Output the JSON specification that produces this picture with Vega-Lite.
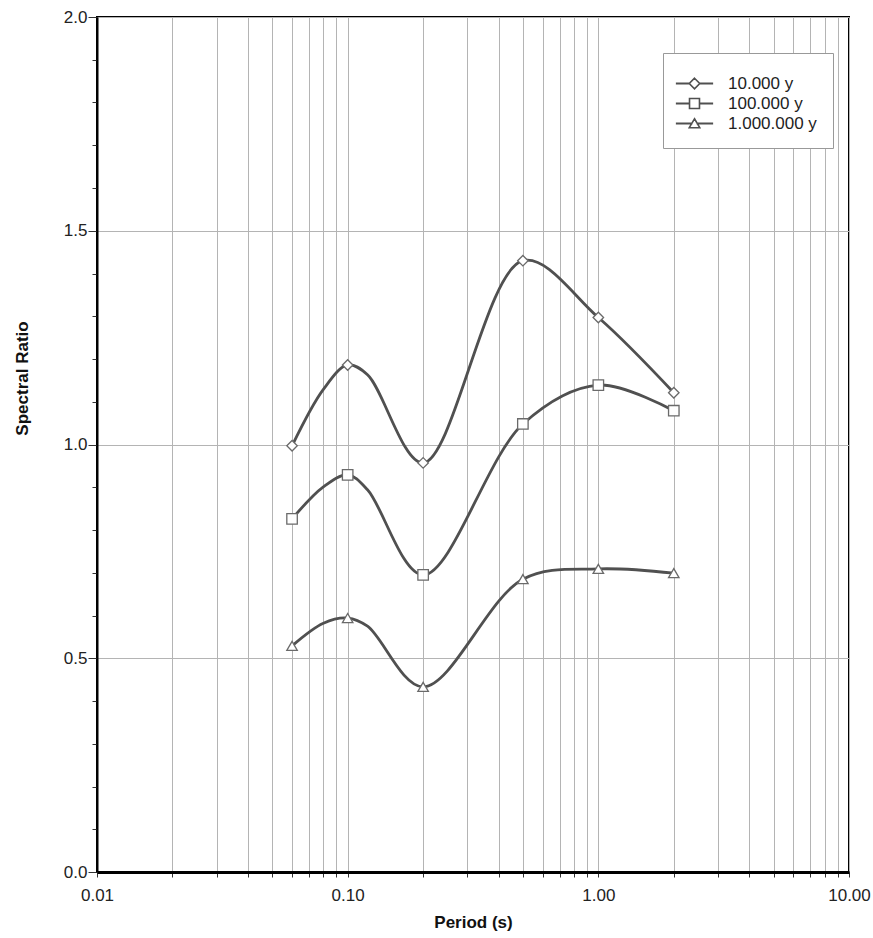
{
  "$schema": "https://vega.github.io/schema/vega-lite/v6.json",
  "width": 752,
  "height": 855,
  "autosize": {"type": "none"},
  "padding": {"left": 97, "top": 17, "right": 24, "bottom": 66},
  "background": "white",
  "config": {
    "view": {"stroke": "black", "strokeWidth": 2},
    "font": "Liberation Sans"
  },
  "datasets": {
    "curve": [
      {"series": "10.000 y", "period": 0.06, "ratio": 0.997},
      {"series": "10.000 y", "period": 0.08, "ratio": 1.129},
      {"series": "10.000 y", "period": 0.1, "ratio": 1.186},
      {"series": "10.000 y", "period": 0.12, "ratio": 1.163},
      {"series": "10.000 y", "period": 0.2, "ratio": 0.957},
      {"series": "10.000 y", "period": 0.5, "ratio": 1.43},
      {"series": "10.000 y", "period": 1.0, "ratio": 1.297},
      {"series": "10.000 y", "period": 2.0, "ratio": 1.121},
      {"series": "100.000 y", "period": 0.06, "ratio": 0.826},
      {"series": "100.000 y", "period": 0.08, "ratio": 0.901},
      {"series": "100.000 y", "period": 0.1, "ratio": 0.929},
      {"series": "100.000 y", "period": 0.12, "ratio": 0.894},
      {"series": "100.000 y", "period": 0.2, "ratio": 0.695},
      {"series": "100.000 y", "period": 0.5, "ratio": 1.048},
      {"series": "100.000 y", "period": 1.0, "ratio": 1.139},
      {"series": "100.000 y", "period": 2.0, "ratio": 1.079},
      {"series": "1.000.000 y", "period": 0.06, "ratio": 0.529},
      {"series": "1.000.000 y", "period": 0.08, "ratio": 0.582},
      {"series": "1.000.000 y", "period": 0.1, "ratio": 0.594},
      {"series": "1.000.000 y", "period": 0.12, "ratio": 0.575},
      {"series": "1.000.000 y", "period": 0.2, "ratio": 0.433},
      {"series": "1.000.000 y", "period": 0.5, "ratio": 0.685},
      {"series": "1.000.000 y", "period": 1.0, "ratio": 0.709},
      {"series": "1.000.000 y", "period": 2.0, "ratio": 0.699}
    ],
    "markers": [
      {"series": "10.000 y", "period": 0.06, "ratio": 0.997},
      {"series": "10.000 y", "period": 0.1, "ratio": 1.186},
      {"series": "10.000 y", "period": 0.2, "ratio": 0.957},
      {"series": "10.000 y", "period": 0.5, "ratio": 1.43},
      {"series": "10.000 y", "period": 1.0, "ratio": 1.297},
      {"series": "10.000 y", "period": 2.0, "ratio": 1.121},
      {"series": "100.000 y", "period": 0.06, "ratio": 0.826},
      {"series": "100.000 y", "period": 0.1, "ratio": 0.929},
      {"series": "100.000 y", "period": 0.2, "ratio": 0.695},
      {"series": "100.000 y", "period": 0.5, "ratio": 1.048},
      {"series": "100.000 y", "period": 1.0, "ratio": 1.139},
      {"series": "100.000 y", "period": 2.0, "ratio": 1.079},
      {"series": "1.000.000 y", "period": 0.06, "ratio": 0.529},
      {"series": "1.000.000 y", "period": 0.1, "ratio": 0.594},
      {"series": "1.000.000 y", "period": 0.2, "ratio": 0.433},
      {"series": "1.000.000 y", "period": 0.5, "ratio": 0.685},
      {"series": "1.000.000 y", "period": 1.0, "ratio": 0.709},
      {"series": "1.000.000 y", "period": 2.0, "ratio": 0.699}
    ]
  },
  "encoding": {
    "x": {
      "field": "period",
      "type": "quantitative",
      "title": "Period (s)",
      "scale": {"type": "log", "domain": [0.01, 10], "nice": false},
      "axis": {
        "values": [0.01, 0.02, 0.03, 0.04, 0.05, 0.06, 0.07, 0.08, 0.09, 0.1, 0.2, 0.3, 0.4, 0.5, 0.6, 0.7, 0.8, 0.9, 1, 2, 3, 4, 5, 6, 7, 8, 9, 10],
        "format": ".2f",
        "labelExpr": "abs(log(datum.value)/LN10 - round(log(datum.value)/LN10)) < 0.001 ? datum.label : ''",
        "labelOverlap": false,
        "labelFlush": false,
        "labelFont": "Liberation Sans",
        "labelFontSize": 17,
        "labelColor": "#222222",
        "labelPadding": 10,
        "tickSize": 5,
        "tickColor": "#333333",
        "domainColor": "black",
        "domainWidth": 3,
        "grid": true,
        "gridColor": "#b4b4b4",
        "gridWidth": 1,
        "titleFont": "Liberation Sans",
        "titleFontSize": 17,
        "titleFontWeight": "bold",
        "titleColor": "#111111",
        "titleBaseline": "middle",
        "titleY": 50
      }
    },
    "y": {
      "field": "ratio",
      "type": "quantitative",
      "title": "Spectral Ratio",
      "scale": {"domain": [0, 2], "nice": false},
      "axis": {
        "values": [0, 0.1, 0.2, 0.3, 0.4, 0.5, 0.6, 0.7, 0.8, 0.9, 1.0, 1.1, 1.2, 1.3, 1.4, 1.5, 1.6, 1.7, 1.8, 1.9, 2.0],
        "format": ".1f",
        "labelExpr": "abs(datum.value*2 - round(datum.value*2)) < 0.001 ? datum.label : ''",
        "labelOverlap": false,
        "labelFlush": false,
        "labelFont": "Liberation Sans",
        "labelFontSize": 17,
        "labelColor": "#222222",
        "labelPadding": 1,
        "tickSize": {"condition": {"test": "abs(datum.value*2 - round(datum.value*2)) < 0.001", "value": 9}, "value": 5},
        "tickColor": "#333333",
        "domainColor": "black",
        "domainWidth": 2,
        "grid": true,
        "gridColor": "#b4b4b4",
        "gridWidth": 1,
        "gridOpacity": {"condition": {"test": "abs(datum.value*2 - round(datum.value*2)) < 0.001", "value": 1}, "value": 0},
        "titleFont": "Liberation Sans",
        "titleFontSize": 17,
        "titleFontWeight": "bold",
        "titleColor": "#111111",
        "titleBaseline": "middle",
        "titleX": -75,
        "titleY": 361
      }
    }
  },
  "layer": [
    {
      "data": {"name": "curve"},
      "mark": {"type": "line", "interpolate": "catmull-rom", "color": "#505050", "strokeWidth": 2.8},
      "encoding": {"detail": {"field": "series"}}
    },
    {
      "data": {"name": "markers"},
      "mark": {"type": "point", "fill": "white", "stroke": "#6a6a6a", "strokeWidth": 1.3, "size": 110, "opacity": 1},
      "encoding": {
        "shape": {
          "field": "series",
          "scale": {"domain": ["10.000 y", "100.000 y", "1.000.000 y"], "range": ["diamond", "square", "triangle-up"]},
          "legend": null
        }
      }
    },
    {
      "data": {"name": "markers"},
      "transform": [{"filter": "datum.ratio > 5"}],
      "mark": {"type": "point", "filled": false, "color": "#505050", "strokeWidth": 1.6, "size": 110, "opacity": 1},
      "encoding": {
        "shape": {
          "field": "series",
          "scale": {
            "domain": ["10.000 y", "100.000 y", "1.000.000 y"],
            "range": [
              "M-3.4,-0.06L-1,-0.06L-1,0.06L-3.4,0.06Z M1,-0.06L3.4,-0.06L3.4,0.06L1,0.06Z M0,-1L1,0L0,1L-1,0Z",
              "M-3.4,-0.06L-0.95,-0.06L-0.95,0.06L-3.4,0.06Z M0.95,-0.06L3.4,-0.06L3.4,0.06L0.95,0.06Z M-0.95,-0.95L0.95,-0.95L0.95,0.95L-0.95,0.95Z",
              "M-3.4,-0.06L-0.55,-0.06L-0.55,0.06L-3.4,0.06Z M0.55,-0.06L3.4,-0.06L3.4,0.06L0.55,0.06Z M0,-0.9L1,0.8L-1,0.8Z"
            ]
          },
          "legend": {
            "orient": "none",
            "legendX": 566,
            "legendY": 36,
            "title": " ",
            "titleFontSize": 6,
            "titlePadding": 0,
            "padding": 16,
            "strokeColor": "#999999",
            "fillColor": "white",
            "cornerRadius": 0,
            "labelFont": "Liberation Sans",
            "labelFontSize": 17,
            "labelColor": "#222222",
            "labelOffset": 25,
            "symbolOffset": 7,
            "symbolSize": 110,
            "symbolStrokeWidth": 1.6,
            "symbolStrokeColor": "#505050",
            "symbolOpacity": 1,
            "rowPadding": 2
          }
        }
      }
    }
  ],
  "resolve": {"scale": {"shape": "independent"}}
}
